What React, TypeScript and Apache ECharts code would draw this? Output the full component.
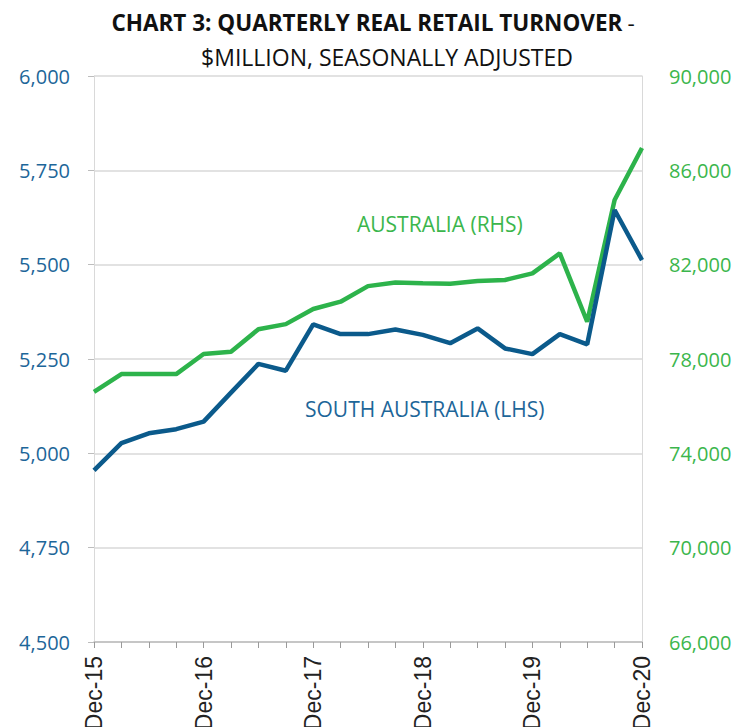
import React, { useEffect, useRef } from "react";
import * as echarts from "echarts";

const categories = [
  "Dec-15", "Mar-16", "Jun-16", "Sep-16", "Dec-16", "Mar-17", "Jun-17", "Sep-17",
  "Dec-17", "Mar-18", "Jun-18", "Sep-18", "Dec-18", "Mar-19", "Jun-19", "Sep-19",
  "Dec-19", "Mar-20", "Jun-20", "Sep-20", "Dec-20",
];

const southAustralia = [
  4955, 5027, 5053, 5064, 5084, 5161, 5237, 5219, 5342, 5316, 5316,
  5328, 5314, 5292, 5331, 5278, 5263, 5316, 5289, 5645, 5512,
];

const australia = [
  76610, 77360, 77360, 77360, 78210, 78310, 79260, 79480, 80120, 80430, 81090,
  81240, 81210, 81190, 81310, 81350, 81630, 82480, 79580, 84740, 86950,
];

const leftTicks = { min: 4500, max: 6000, interval: 250 };
const rightTicks = { min: 66000, max: 90000 };

const BLUE_LINE = "#0b5a8b";
const GREEN_LINE = "#2db34b";
const BLUE_TEXT = "#1d6699";
const GREEN_TEXT = "#3bb64c";
const FONT = "Open Sans";

export default function App() {
  const ref = useRef<HTMLDivElement>(null);
  useEffect(() => {
    if (!ref.current) return;
    document.body.style.margin = "0";
    const chart = echarts.init(ref.current, null, { renderer: "svg" });
    const fmt = (v: number) => v.toLocaleString("en-US");
    chart.setOption({
      animation: false,
      backgroundColor: "#ffffff",
      title: [
        {
          left: 373,
          textAlign: "center",
          top: 7,
          padding: 0,
          text: "{b|CHART 3: QUARTERLY REAL RETAIL TURNOVER} {n|-}",
          textStyle: {
            lineHeight: 30,
            rich: {
              b: { fontFamily: FONT, fontWeight: "bold", fontSize: 22.5, color: "#111", lineHeight: 30 },
              n: { fontFamily: FONT, fontWeight: "normal", fontSize: 22.5, color: "#111", lineHeight: 30 },
            },
          },
        },
        {
          left: 387,
          textAlign: "center",
          top: 42,
          padding: 0,
          text: "$MILLION, SEASONALLY ADJUSTED",
          textStyle: {
            fontFamily: FONT,
            fontWeight: "normal",
            fontSize: 23,
            color: "#111",
            lineHeight: 30,
          },
        },
      ],
      grid: { left: 94, right: 97, top: 76, bottom: 85, containLabel: false, outerBoundsMode: "none" },
      xAxis: {
        type: "category",
        data: categories,
        boundaryGap: false,
        axisLine: { show: true, lineStyle: { color: "#bdbdbd", width: 1.5 } },
        axisTick: { show: true, interval: 0, length: 6, lineStyle: { color: "#9a9a9a" } },
        axisLabel: {
          interval: 3,
          rotate: 90,
          margin: 14,
          fontFamily: "Liberation Sans",
          fontSize: 23,
          color: "#222",
        },
        splitLine: { show: false },
      },
      yAxis: [
        {
          type: "value",
          min: leftTicks.min,
          max: leftTicks.max,
          interval: leftTicks.interval,
          position: "left",
          axisLine: { show: true, lineStyle: { color: "#d9d9d9" } },
          axisTick: { show: true, length: 6, lineStyle: { color: "#bdbdbd" } },
          axisLabel: { margin: 24, fontFamily: FONT, fontSize: 20, color: BLUE_TEXT, formatter: fmt },
          splitLine: { show: true, lineStyle: { color: "#d9d9d9", width: 1.5 } },
        },
        {
          type: "value",
          min: rightTicks.min,
          max: rightTicks.max,
          alignTicks: true,
          position: "right",
          axisLine: { show: true, lineStyle: { color: "#d9d9d9" } },
          axisTick: { show: false },
          axisLabel: { margin: 27, fontFamily: FONT, fontSize: 20, color: GREEN_TEXT, formatter: fmt },
          splitLine: { show: false },
        },
      ],
      series: [
        {
          name: "SOUTH AUSTRALIA (LHS)",
          type: "line",
          yAxisIndex: 0,
          data: southAustralia,
          symbol: "none",
          lineStyle: { color: BLUE_LINE, width: 4.5 },
          z: 3,
        },
        {
          name: "AUSTRALIA (RHS)",
          type: "line",
          yAxisIndex: 1,
          data: australia,
          symbol: "none",
          lineStyle: { color: GREEN_LINE, width: 4.5 },
          z: 2,
        },
      ],
      graphic: [
        {
          type: "text",
          left: 357,
          top: 213,
          style: { text: "AUSTRALIA (RHS)", fontFamily: FONT, fontSize: 21, fill: GREEN_TEXT },
        },
        {
          type: "text",
          left: 305,
          top: 398,
          style: { text: "SOUTH AUSTRALIA (LHS)", fontFamily: FONT, fontSize: 21, fill: BLUE_TEXT },
        },
      ],
    });
    return () => chart.dispose();
  }, []);
  return <div ref={ref} style={{ width: 739, height: 727 }} />;
}
